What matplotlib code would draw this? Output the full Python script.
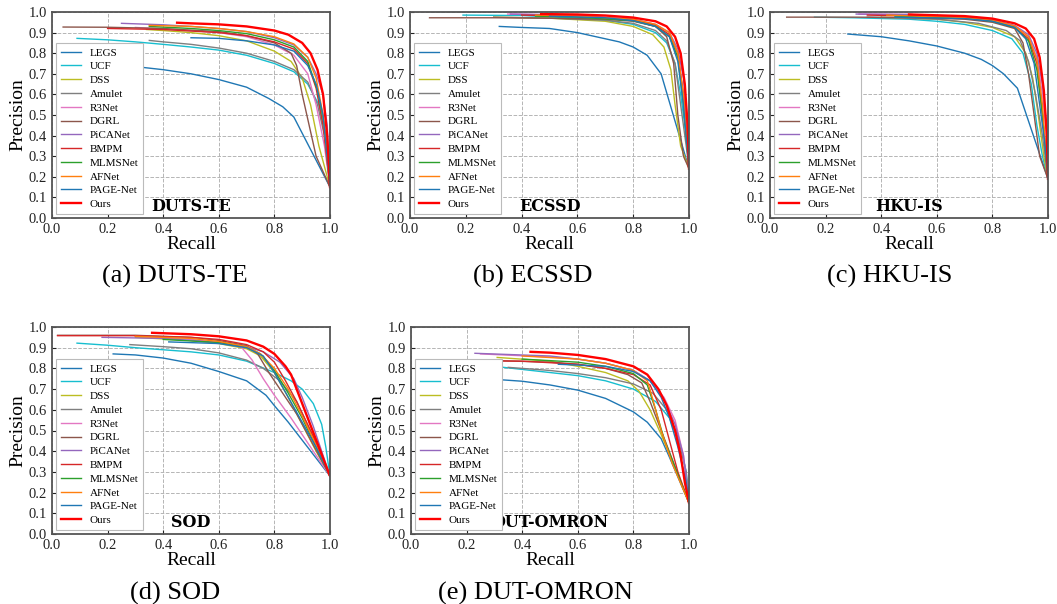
import matplotlib
matplotlib.use('Agg')
import matplotlib.pyplot as plt
from matplotlib.ticker import MultipleLocator

plt.rcParams['font.family'] = ['Liberation Serif', 'DejaVu Serif']

methods = ['LEGS', 'UCF', 'DSS', 'Amulet', 'R3Net', 'DGRL', 'PiCANet',
           'BMPM', 'MLMSNet', 'AFNet', 'PAGE-Net', 'Ours']
colors = ['#1f77b4', '#17becf', '#bcbd22', '#7f7f7f', '#e377c2', '#8c564b',
          '#9467bd', '#d62728', '#2ca02c', '#ff7f0e', '#1f77b4', 'red']

# ---- DUTS-TE ----
duts_recall = [
    [0.27, 0.30, 0.40, 0.50, 0.60, 0.70, 0.78, 0.83, 0.87, 1.00],
    [0.09, 0.20, 0.30, 0.40, 0.50, 0.60, 0.70, 0.80, 0.87, 0.92, 0.96, 0.985, 1.00],
    [0.34, 0.40, 0.50, 0.60, 0.70, 0.80, 0.86, 0.90, 0.93, 0.96, 1.00],
    [0.35, 0.40, 0.50, 0.60, 0.70, 0.80, 0.87, 0.92, 0.955, 0.98, 1.00],
    [0.30, 0.40, 0.50, 0.60, 0.70, 0.80, 0.87, 0.92, 0.95, 0.98, 1.00],
    [0.04, 0.20, 0.40, 0.50, 0.60, 0.70, 0.80, 0.86, 0.88, 0.90, 0.92, 0.95, 1.00],
    [0.25, 0.40, 0.50, 0.60, 0.70, 0.80, 0.87, 0.92, 0.95, 0.975, 0.99, 1.00],
    [0.20, 0.40, 0.60, 0.70, 0.80, 0.87, 0.92, 0.95, 0.975, 1.00],
    [0.35, 0.50, 0.60, 0.70, 0.80, 0.87, 0.92, 0.955, 0.98, 1.00],
    [0.35, 0.50, 0.60, 0.70, 0.80, 0.87, 0.92, 0.95, 0.975, 1.00],
    [0.50, 0.60, 0.70, 0.80, 0.87, 0.92, 0.95, 0.975, 1.00],
    [0.45, 0.50, 0.60, 0.70, 0.80, 0.85, 0.90, 0.93, 0.955, 0.975, 0.99, 1.00],
]
duts_precision = [
    [0.745, 0.735, 0.72, 0.70, 0.672, 0.635, 0.58, 0.54, 0.49, 0.15],
    [0.872, 0.865, 0.855, 0.843, 0.83, 0.815, 0.79, 0.75, 0.71, 0.65, 0.55, 0.40, 0.15],
    [0.915, 0.91, 0.90, 0.885, 0.86, 0.81, 0.76, 0.68, 0.55, 0.35, 0.15],
    [0.862, 0.855, 0.843, 0.825, 0.80, 0.76, 0.72, 0.66, 0.55, 0.40, 0.15],
    [0.925, 0.918, 0.91, 0.90, 0.88, 0.84, 0.79, 0.70, 0.55, 0.35, 0.15],
    [0.927, 0.926, 0.92, 0.912, 0.905, 0.885, 0.85, 0.80, 0.74, 0.60, 0.48, 0.30, 0.15],
    [0.945, 0.938, 0.93, 0.92, 0.905, 0.875, 0.84, 0.78, 0.70, 0.60, 0.45, 0.15],
    [0.92, 0.915, 0.90, 0.885, 0.855, 0.82, 0.75, 0.63, 0.45, 0.15],
    [0.93, 0.92, 0.91, 0.895, 0.865, 0.83, 0.76, 0.62, 0.45, 0.15],
    [0.935, 0.93, 0.92, 0.905, 0.88, 0.845, 0.78, 0.68, 0.50, 0.15],
    [0.875, 0.872, 0.86, 0.84, 0.81, 0.74, 0.65, 0.50, 0.15],
    [0.948, 0.945, 0.94, 0.93, 0.91, 0.89, 0.85, 0.80, 0.72, 0.60, 0.40, 0.15],
]

# ---- ECSSD ----
ecssd_recall = [
    [0.32, 0.40, 0.50, 0.60, 0.70, 0.75, 0.80, 0.85, 0.90, 1.00],
    [0.19, 0.40, 0.60, 0.70, 0.80, 0.88, 0.92, 0.95, 0.97, 0.99, 1.00],
    [0.30, 0.50, 0.70, 0.80, 0.87, 0.91, 0.935, 0.95, 0.97, 1.00],
    [0.30, 0.50, 0.70, 0.80, 0.88, 0.92, 0.95, 0.97, 0.99, 1.00],
    [0.35, 0.60, 0.80, 0.88, 0.93, 0.96, 0.98, 0.99, 1.00],
    [0.07, 0.30, 0.50, 0.70, 0.80, 0.88, 0.92, 0.945, 0.96, 0.98, 1.00],
    [0.36, 0.60, 0.80, 0.88, 0.93, 0.96, 0.98, 0.995, 1.00],
    [0.40, 0.60, 0.80, 0.88, 0.93, 0.96, 0.98, 1.00],
    [0.45, 0.60, 0.80, 0.88, 0.93, 0.96, 0.98, 1.00],
    [0.45, 0.60, 0.80, 0.88, 0.93, 0.96, 0.98, 1.00],
    [0.50, 0.70, 0.80, 0.88, 0.93, 0.96, 0.98, 1.00],
    [0.47, 0.60, 0.70, 0.80, 0.88, 0.92, 0.95, 0.97, 0.985, 0.995, 1.00],
]
ecssd_precision = [
    [0.93, 0.925, 0.92, 0.90, 0.87, 0.855, 0.83, 0.79, 0.70, 0.24],
    [0.985, 0.983, 0.97, 0.96, 0.94, 0.90, 0.85, 0.75, 0.60, 0.40, 0.24],
    [0.975, 0.97, 0.955, 0.93, 0.89, 0.83, 0.72, 0.55, 0.35, 0.24],
    [0.975, 0.97, 0.96, 0.945, 0.91, 0.86, 0.75, 0.55, 0.35, 0.24],
    [0.99, 0.985, 0.96, 0.93, 0.88, 0.78, 0.60, 0.45, 0.24],
    [0.972, 0.972, 0.97, 0.965, 0.955, 0.93, 0.88, 0.75, 0.50, 0.30, 0.24],
    [0.99, 0.985, 0.965, 0.94, 0.90, 0.82, 0.68, 0.45, 0.24],
    [0.985, 0.98, 0.96, 0.935, 0.89, 0.80, 0.60, 0.24],
    [0.98, 0.975, 0.958, 0.93, 0.88, 0.78, 0.55, 0.24],
    [0.985, 0.98, 0.965, 0.94, 0.90, 0.80, 0.60, 0.24],
    [0.98, 0.972, 0.958, 0.93, 0.88, 0.76, 0.55, 0.24],
    [0.99, 0.988, 0.983, 0.973, 0.955, 0.93, 0.88, 0.80, 0.65, 0.45, 0.24],
]

# ---- HKU-IS ----
hku_recall = [
    [0.28, 0.40, 0.50, 0.60, 0.70, 0.76, 0.80, 0.84, 0.89, 1.00],
    [0.16, 0.30, 0.50, 0.60, 0.70, 0.80, 0.87, 0.91, 0.94, 0.96, 0.98, 1.00],
    [0.40, 0.60, 0.70, 0.80, 0.88, 0.92, 0.945, 0.965, 0.985, 1.00],
    [0.35, 0.60, 0.75, 0.85, 0.90, 0.93, 0.955, 0.98, 1.00],
    [0.32, 0.50, 0.70, 0.80, 0.88, 0.93, 0.96, 0.98, 0.995, 1.00],
    [0.06, 0.30, 0.50, 0.70, 0.80, 0.88, 0.91, 0.93, 0.95, 0.97, 1.00],
    [0.31, 0.50, 0.70, 0.80, 0.88, 0.93, 0.96, 0.98, 0.995, 1.00],
    [0.35, 0.60, 0.80, 0.88, 0.93, 0.96, 0.98, 1.00],
    [0.45, 0.70, 0.80, 0.88, 0.93, 0.96, 0.98, 1.00],
    [0.42, 0.70, 0.80, 0.88, 0.93, 0.96, 0.98, 1.00],
    [0.45, 0.70, 0.80, 0.88, 0.92, 0.95, 0.97, 0.99, 1.00],
    [0.50, 0.70, 0.80, 0.88, 0.92, 0.95, 0.97, 0.985, 0.995, 1.00],
]
hku_precision = [
    [0.893, 0.88, 0.86, 0.835, 0.80, 0.77, 0.74, 0.70, 0.63, 0.19],
    [0.975, 0.972, 0.965, 0.955, 0.94, 0.91, 0.87, 0.80, 0.65, 0.45, 0.30, 0.19],
    [0.975, 0.965, 0.95, 0.925, 0.88, 0.80, 0.68, 0.50, 0.30, 0.19],
    [0.975, 0.965, 0.945, 0.91, 0.86, 0.76, 0.60, 0.40, 0.19],
    [0.99, 0.988, 0.975, 0.96, 0.93, 0.88, 0.78, 0.60, 0.40, 0.19],
    [0.975, 0.975, 0.973, 0.965, 0.95, 0.92, 0.85, 0.70, 0.50, 0.30, 0.19],
    [0.99, 0.988, 0.978, 0.963, 0.935, 0.89, 0.80, 0.65, 0.45, 0.19],
    [0.985, 0.978, 0.958, 0.925, 0.87, 0.75, 0.50, 0.19],
    [0.98, 0.97, 0.955, 0.925, 0.86, 0.72, 0.50, 0.19],
    [0.985, 0.973, 0.96, 0.932, 0.88, 0.77, 0.55, 0.19],
    [0.975, 0.968, 0.955, 0.925, 0.87, 0.75, 0.55, 0.35, 0.19],
    [0.988, 0.98, 0.968, 0.945, 0.92, 0.87, 0.78, 0.62, 0.42, 0.19],
]

# ---- SOD ----
sod_recall = [
    [0.22, 0.30, 0.40, 0.50, 0.60, 0.70, 0.77, 0.80, 0.85, 1.00],
    [0.09, 0.20, 0.30, 0.40, 0.50, 0.60, 0.70, 0.80, 0.86, 0.90, 0.94, 0.97, 0.985, 1.00],
    [0.30, 0.50, 0.60, 0.70, 0.75, 0.80, 0.85, 0.90, 0.95, 1.00],
    [0.28, 0.40, 0.50, 0.60, 0.70, 0.76, 0.82, 0.88, 0.94, 1.00],
    [0.30, 0.50, 0.60, 0.68, 0.72, 0.76, 0.80, 0.86, 0.92, 1.00],
    [0.02, 0.30, 0.50, 0.60, 0.70, 0.74, 0.78, 0.82, 0.88, 0.94, 1.00],
    [0.18, 0.40, 0.60, 0.70, 0.76, 0.82, 0.87, 0.90, 0.94, 0.97, 1.00],
    [0.02, 0.30, 0.50, 0.60, 0.70, 0.76, 0.80, 0.84, 0.88, 0.94, 1.00],
    [0.40, 0.60, 0.70, 0.75, 0.80, 0.85, 0.90, 0.95, 1.00],
    [0.30, 0.50, 0.60, 0.70, 0.75, 0.80, 0.85, 0.90, 0.95, 1.00],
    [0.42, 0.60, 0.70, 0.76, 0.80, 0.85, 0.90, 0.95, 1.00],
    [0.36, 0.50, 0.60, 0.70, 0.76, 0.80, 0.84, 0.86, 0.88, 0.92, 0.96, 1.00],
]
sod_precision = [
    [0.87, 0.865, 0.85, 0.825, 0.785, 0.74, 0.67, 0.62, 0.54, 0.28],
    [0.922, 0.912, 0.90, 0.89, 0.88, 0.865, 0.835, 0.78, 0.74, 0.70, 0.63, 0.53, 0.42, 0.28],
    [0.95, 0.935, 0.92, 0.895, 0.86, 0.78, 0.66, 0.53, 0.40, 0.28],
    [0.915, 0.905, 0.895, 0.875, 0.84, 0.80, 0.74, 0.64, 0.47, 0.28],
    [0.955, 0.94, 0.925, 0.905, 0.84, 0.75, 0.67, 0.56, 0.44, 0.28],
    [0.96, 0.96, 0.95, 0.935, 0.91, 0.87, 0.78, 0.70, 0.58, 0.43, 0.28],
    [0.95, 0.945, 0.925, 0.905, 0.88, 0.83, 0.75, 0.66, 0.52, 0.40, 0.28],
    [0.958, 0.958, 0.95, 0.94, 0.915, 0.88, 0.83, 0.74, 0.64, 0.47, 0.28],
    [0.94, 0.925, 0.905, 0.87, 0.79, 0.68, 0.56, 0.42, 0.28],
    [0.955, 0.945, 0.93, 0.905, 0.87, 0.80, 0.70, 0.57, 0.43, 0.28],
    [0.928, 0.92, 0.90, 0.86, 0.78, 0.66, 0.54, 0.42, 0.28],
    [0.972, 0.965, 0.955, 0.935, 0.905, 0.87, 0.81, 0.77, 0.70, 0.56, 0.42, 0.28],
]

# ---- DUT-OMRON ----
omron_recall = [
    [0.27, 0.40, 0.50, 0.60, 0.70, 0.80, 0.85, 0.90, 0.93, 1.00],
    [0.10, 0.30, 0.50, 0.60, 0.70, 0.80, 0.88, 0.93, 0.97, 0.99, 1.00],
    [0.31, 0.50, 0.60, 0.70, 0.78, 0.82, 0.86, 0.90, 0.94, 1.00],
    [0.35, 0.50, 0.60, 0.70, 0.80, 0.87, 0.92, 0.96, 0.99, 1.00],
    [0.25, 0.50, 0.60, 0.70, 0.80, 0.86, 0.91, 0.95, 0.98, 1.00],
    [0.05, 0.30, 0.50, 0.60, 0.70, 0.78, 0.83, 0.86, 0.90, 0.94, 1.00],
    [0.23, 0.50, 0.60, 0.70, 0.80, 0.86, 0.91, 0.95, 0.98, 1.00],
    [0.10, 0.40, 0.60, 0.70, 0.80, 0.86, 0.90, 0.93, 0.96, 1.00],
    [0.40, 0.60, 0.70, 0.80, 0.85, 0.88, 0.91, 0.95, 1.00],
    [0.40, 0.60, 0.70, 0.80, 0.85, 0.87, 0.90, 0.94, 1.00],
    [0.53, 0.70, 0.80, 0.86, 0.90, 0.93, 0.96, 0.99, 1.00],
    [0.43, 0.50, 0.60, 0.70, 0.80, 0.85, 0.89, 0.92, 0.95, 0.97, 0.985, 1.00],
]
omron_precision = [
    [0.75, 0.738, 0.72, 0.695, 0.655, 0.59, 0.54, 0.46, 0.37, 0.15],
    [0.82, 0.81, 0.78, 0.765, 0.74, 0.70, 0.64, 0.56, 0.42, 0.30, 0.15],
    [0.853, 0.835, 0.81, 0.78, 0.74, 0.69, 0.60, 0.48, 0.35, 0.15],
    [0.805, 0.79, 0.775, 0.755, 0.725, 0.68, 0.60, 0.47, 0.30, 0.15],
    [0.87, 0.855, 0.845, 0.825, 0.79, 0.74, 0.66, 0.55, 0.38, 0.15],
    [0.84, 0.838, 0.83, 0.82, 0.80, 0.77, 0.73, 0.64, 0.50, 0.36, 0.15],
    [0.873, 0.86, 0.845, 0.825, 0.79, 0.74, 0.65, 0.53, 0.38, 0.15],
    [0.838, 0.835, 0.82, 0.80, 0.77, 0.72, 0.60, 0.45, 0.30, 0.15],
    [0.845, 0.83, 0.81, 0.775, 0.72, 0.60, 0.46, 0.32, 0.15],
    [0.86, 0.845, 0.825, 0.79, 0.74, 0.65, 0.50, 0.34, 0.15],
    [0.82, 0.81, 0.785, 0.74, 0.66, 0.56, 0.42, 0.25, 0.15],
    [0.88, 0.876, 0.865, 0.845, 0.81, 0.77, 0.70, 0.62, 0.50, 0.38, 0.25, 0.15],
]

datasets = ['DUTS-TE', 'ECSSD', 'HKU-IS', 'SOD', 'DUT-OMRON']
captions = ['(a) DUTS-TE', '(b) ECSSD', '(c) HKU-IS', '(d) SOD', '(e) DUT-OMRON']
all_recall = [duts_recall, ecssd_recall, hku_recall, sod_recall, omron_recall]
all_precision = [duts_precision, ecssd_precision, hku_precision, sod_precision, omron_precision]

W, H = 1057, 604
fig = plt.figure(figsize=(W / 100, H / 100), dpi=100)

# axes boxes in pixels: left, top, right, bottom
boxes = [(52, 12, 330, 218), (410, 12, 689, 218), (770, 12, 1048, 218),
         (52, 327, 330, 534), (411, 327, 689, 534)]
caption_pos = [(175, 276), (533, 276), (890, 276), (175, 593), (535, 593)]

for i in range(5):
    l, t, r, b = boxes[i]
    ax = fig.add_axes([l / W, 1 - b / H, (r - l) / W, (b - t) / H])
    for j in range(len(methods)):
        lw = 1.7 if methods[j] == 'Ours' else 1.0
        ax.plot(all_recall[i][j], all_precision[i][j], color=colors[j],
                linewidth=lw, label=methods[j])
    ax.set_xlim(0, 1)
    ax.set_ylim(0, 1)
    ax.xaxis.set_major_locator(MultipleLocator(0.2))
    ax.yaxis.set_major_locator(MultipleLocator(0.1))
    ax.tick_params(direction='in', labelsize=10.5, length=3, colors='#222222')
    ax.grid(True, linestyle='--', color='#b5b5b5', linewidth=0.7)
    for s in ax.spines.values():
        s.set_color('#555555')
        s.set_linewidth(1.3)
    ax.set_xlabel('Recall', fontsize=14, labelpad=0)
    ax.set_ylabel('Precision', fontsize=14, labelpad=2)
    leg = ax.legend(loc='lower left', fontsize=8, handlelength=1.8,
                    labelspacing=0.36, borderaxespad=0.4, fancybox=False,
                    edgecolor='#bbbbbb', framealpha=1.0)
    leg.get_frame().set_linewidth(0.8)
    ax.text(0.5, 0.015, datasets[i], transform=ax.transAxes, ha='center',
            va='bottom', fontsize=11.5, fontweight='bold', family='DejaVu Serif')
    cx, cy = caption_pos[i]
    fig.text(cx / W, 1 - cy / H, captions[i], ha='center', va='center', fontsize=19)

fig.savefig('out.png', dpi=100)
